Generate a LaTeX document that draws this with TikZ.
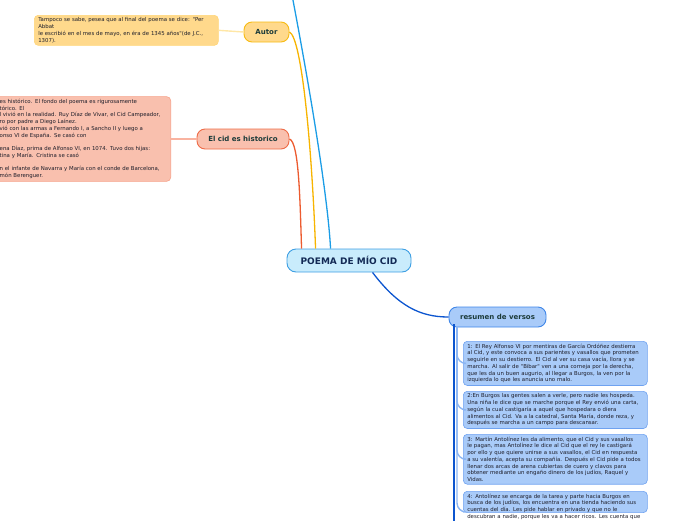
\documentclass[tikz,border=0pt]{standalone}
\usepackage{fontspec}
\newfontfamily\verd{DejaVu Sans}

\definecolor{poemafill}{HTML}{C9ECFC}
\definecolor{poemaline}{HTML}{3D9FE3}
\definecolor{poematext}{HTML}{132A55}
\definecolor{topictext}{HTML}{1C3B3A}
\definecolor{leaftext}{HTML}{1E1E2A}
\definecolor{autorfill}{HTML}{FFD98C}
\definecolor{autorline}{HTML}{F7BB13}
\definecolor{autorleaf}{HTML}{FFD577}
\definecolor{autortwig}{HTML}{FFE7A6}
\definecolor{cidfill}{HTML}{F9C0AE}
\definecolor{cidline}{HTML}{EE6B47}
\definecolor{cidleaf}{HTML}{F6A28A}
\definecolor{cidtwig}{HTML}{F9B3A0}
\definecolor{resfill}{HTML}{A9CBF9}
\definecolor{resline}{HTML}{3F86E8}
\definecolor{resleaf}{HTML}{6FA2F0}
\definecolor{restwig}{HTML}{8AB5F3}
\definecolor{topblue}{HTML}{1B9DE6}
\definecolor{autorbranch}{HTML}{F7B400}
\definecolor{cidbranch}{HTML}{EC5B2F}
\definecolor{resbranch}{HTML}{0C55CF}

\tikzset{
  main/.style={draw=poemaline, fill=poemafill, rounded corners=9pt, line width=0.9pt,
    font=\verd\bfseries\fontsize{9}{10}\selectfont, text=poematext,
    minimum width=124pt, minimum height=23pt, inner sep=0pt},
  topic/.style={rounded corners=8pt, line width=0.9pt, text=topictext,
    font=\verd\bfseries\fontsize{7}{8}\selectfont, minimum height=20pt, inner sep=0pt},
  leaf/.style={rounded corners=4pt, line width=0.6pt, text=leaftext, align=left,
    font=\verd\fontsize{5.4}{6.75}\selectfont, inner xsep=4pt, inner ysep=2.5pt,
    text width=176pt},
  branch/.style={line width=1.3pt},
  twig/.style={line width=1.4pt}
}

\begin{document}
\begin{tikzpicture}[x=1pt,y=-1pt]

\useasboundingbox (0,0) rectangle (696,520);
\clip (0,0) rectangle (696,520);

% middle
\node [main] (v1) at (349,260.5) {POEMA DE MÍO CID};

% Autor
\node [topic, draw=autorline, fill=autorfill, minimum width=45pt] (v2) at (266.5,32) {Autor};
\node [leaf, draw=autorleaf, fill=autorfill, anchor=north west] (v3) at (34,15)
  {Tampoco se sabe, pesea que al final del poema se dice: "Per\\
   Abbat\\
   le escribió en el mes de mayo, en éra de 1345 años"(de J.C.,\\
   1307).};

% El cid es historico
\node [topic, draw=cidline, fill=cidfill, minimum width=92pt] (v4) at (243,139) {El cid es historico};
\node [leaf, draw=cidleaf, fill=cidfill, anchor=east, text width=167pt] (v5) at (171,139)
  {es histórico. El fondo del poema es rigurosamente\\
   tórico. El\\
   l vivió en la realidad. Ruy Díaz de Vivar, el Cid Campeador,\\
   ro por padre a Diego Laínez.\\
   vió con las armas a Fernando I, a Sancho II y luego a\\
   onso VI de España. Se casó con\\[6.75pt]
   ena Díaz, prima de Alfonso VI, en 1074. Tuvo dos hijas:\\
   tina y María. Cristina se casó\\[6.75pt]
   n el infante de Navarra y María con el conde de Barcelona,\\
   món Berenguer.};

% resumen de versos
\node [topic, draw=resline, fill=resfill, minimum width=97pt] (v6) at (497.5,317) {resumen de versos};
\node [leaf, draw=resleaf, fill=resfill, anchor=north west] (v7) at (463,341)
  {1: El Rey Alfonso VI por mentiras de García Ordóñez destierra\\
   al Cid, y este convoca a sus parientes y vasallos que prometen\\
   seguirle en su destierro. El Cid al ver su casa vacía, llora y se\\
   marcha. Al salir de "Bibar" ven a una corneja por la derecha,\\
   que les da un buen augurio, al llegar a Burgos, la ven por la\\
   izquierda lo que les anuncia uno malo.};
\node [leaf, draw=resleaf, fill=resfill, anchor=north west] (v8) at (463,391)
  {2:En Burgos las gentes salen a verle, pero nadie les hospeda.\\
   Una niña le dice que se marche porque el Rey envió una carta,\\
   según la cual castigaría a aquel que hospedara o diera\\
   alimentos al Cid. Va a la catedral, Santa María, donde reza, y\\
   después se marcha a un campo para descansar.};
\node [leaf, draw=resleaf, fill=resfill, anchor=north west] (v9) at (463,434)
  {3: Martín Antolínez les da alimento, que el Cid y sus vasallos\\
   le pagan, mas Antolínez le dice al Cid que el rey le castigará\\
   por ello y que quiere unirse a sus vasallos, el Cid en respuesta\\
   a su valentía, acepta su compañía. Después el Cid pide a todos\\
   llenar dos arcas de arena cubiertas de cuero y clavos para\\
   obtener mediante un engaño dinero de los judíos, Raquel y\\
   Vidas.};
\node [leaf, draw=resleaf, fill=resfill, anchor=north west, text depth=12pt] (v10) at (463,491)
  {4: Antolínez se encarga de la tarea y parte hacia Burgos en\\
   busca de los judíos, los encuentra en una tienda haciendo sus\\
   cuentas del día. Les pide hablar en privado y que no le\\
   descubran a nadie, porque les va a hacer ricos. Les cuenta que};

\coordinate (v11) at (292,-5);
\coordinate (v12) at (454,324);
\coordinate (v13) at (454,530);
\coordinate (v14) at (457,326);

% branches to the middle
\draw [branch, topblue] (v11) .. controls (312,100) and (328,200) .. ([xshift=44pt]v1.north west);
\draw [branch, autorbranch] (v2.east) .. controls (302,38) and (312,150) .. ([xshift=29pt]v1.north west);
\draw [branch, cidbranch] (v4.east) .. controls (299,142) and (300,200) .. ([xshift=15pt]v1.north west);
\draw [branch, resbranch] ([xshift=86pt]v1.south west) .. controls (398,306) and (420,317) .. (v6.west);

% leaves
\draw [twig, autortwig] (v3.east) -- (v2.west);
\draw [twig, cidtwig] (v5.east) -- (v4.west);
\draw [line width=2.4pt, resbranch] (v12) -- (v13);
\draw [twig, restwig, rounded corners=9pt] (v14) |- (v7.west);
\draw [twig, restwig, rounded corners=9pt] (v14) |- (v8.west);
\draw [twig, restwig, rounded corners=9pt] (v14) |- (v9.west);
\draw [twig, restwig, rounded corners=9pt] (v14) |- ([yshift=-10pt]v10.west);

\end{tikzpicture}
\end{document}
